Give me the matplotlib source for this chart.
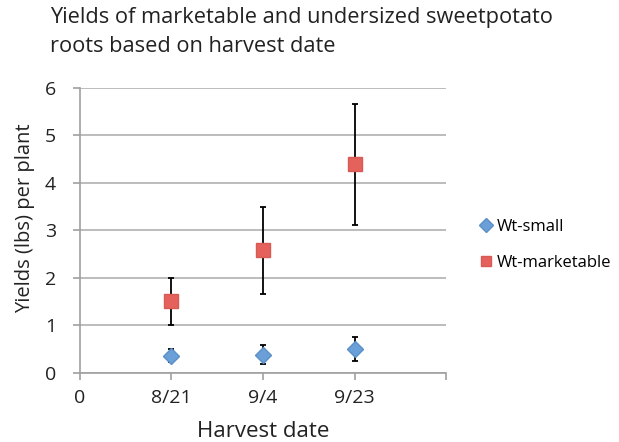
import matplotlib
matplotlib.use("Agg")
import matplotlib.pyplot as plt

plt.rcParams['font.family'] = ['Open Sans', 'DejaVu Sans']

dates = ['8/21', '9/4', '9/23']
x_pos = [1, 2, 3]
small = [0.36, 0.38, 0.50]
small_err = [0.14, 0.20, 0.25]
market = [1.50, 2.57, 4.38]
market_err = [0.49, 0.91, 1.27]
xtick_labels = ['0', '8/21', '9/4', '9/23', '']

fig = plt.figure(figsize=(6.19, 4.42), dpi=100)
ax = fig.add_axes([0.129, 0.157, 0.592, 0.645])

ax.errorbar(x_pos, small, yerr=small_err, fmt='D', color='#6a9fd8',
            markersize=8.5, markeredgecolor='#5b8fc8', ecolor='black',
            elinewidth=1.3, capsize=2.5, capthick=1.3, label='Wt-small', zorder=3)
ax.errorbar(x_pos, market, yerr=market_err, fmt='s', color='#e5625c',
            markersize=9.5, markeredgecolor='#d85a55', ecolor='black',
            elinewidth=1.3, capsize=2.5, capthick=1.3, label='Wt-marketable', zorder=3)

ax.set_xlim(0, 4)
ax.set_ylim(0, 6)
ax.set_xticks([0, 1, 2, 3, 4])
ax.set_xticklabels(xtick_labels)
ax.set_yticks(range(0, 7))
ax.yaxis.grid(True, color='#b0b0b0', linewidth=1.2)
ax.set_axisbelow(True)
for s in ['top', 'right']:
    ax.spines[s].set_visible(False)
for s in ['left', 'bottom']:
    ax.spines[s].set_color('#a0a0a0')
    ax.spines[s].set_linewidth(1.2)
ax.tick_params(axis='both', colors='#a0a0a0', length=5, width=1.2, labelsize=14,
               labelcolor='#222222')
ax.tick_params(axis='x', pad=7)
ax.tick_params(axis='y', pad=12)

ax.set_xlabel('Harvest date', fontsize=16, color='#222222', labelpad=10)
ax.set_ylabel('Yields (lbs) per plant', fontsize=14.5, color='#222222', labelpad=7, y=0.54)

fig.text(0.081, 0.985, 'Yields of marketable and undersized sweetpotato\nroots based on harvest date',
         fontsize=15.7, color='#222222', va='top', ha='left', linespacing=1.5)

handles, labels = ax.get_legend_handles_labels()
handles = [h[0] for h in handles]
leg = fig.legend(handles, labels, loc='center left', bbox_to_anchor=(0.748, 0.445),
                 frameon=False, fontsize=12, handletextpad=0.1, labelspacing=1.2,
                 handlelength=1.0, markerscale=0.8)

fig.savefig('out.png', dpi=100)
